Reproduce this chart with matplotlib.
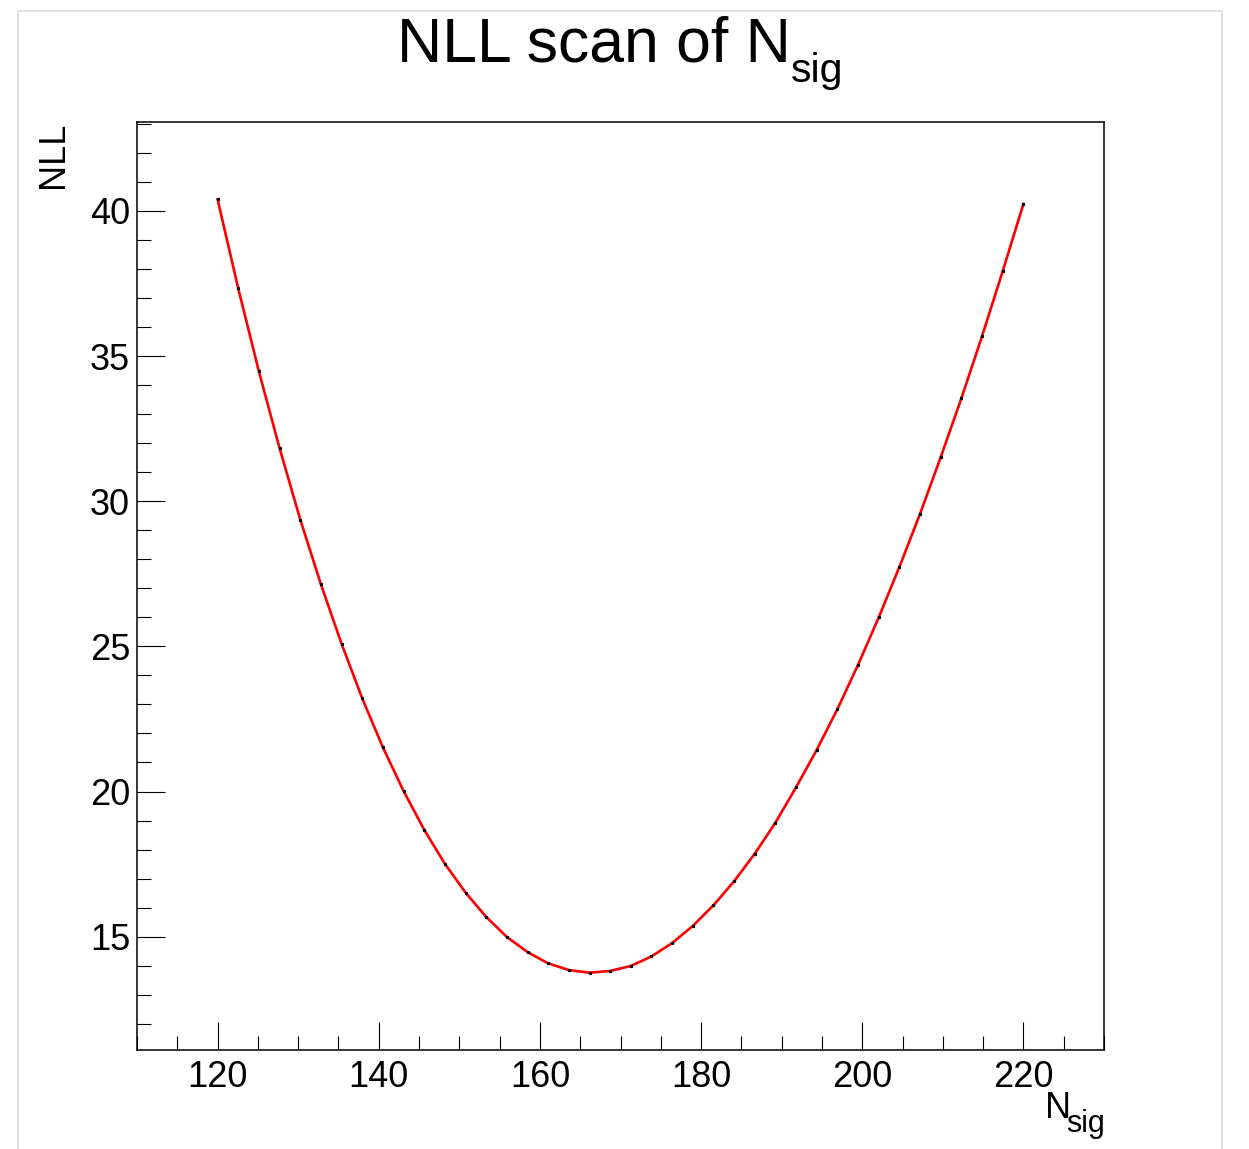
import numpy as np
import matplotlib
matplotlib.use("Agg")
import matplotlib.pyplot as plt
from matplotlib.patches import Rectangle
from matplotlib.ticker import MultipleLocator

plt.rcParams['font.family'] = ['Liberation Sans', 'DejaVu Sans']

# scan points: 40 values of N_sig between 120 and 220
n_sig = np.linspace(120, 220, 40)
nll = [40.40, 37.33, 34.47, 31.83, 29.37, 27.14, 25.09, 23.21, 21.52, 20.02,
       18.68, 17.51, 16.52, 15.68, 14.99, 14.47, 14.08, 13.85, 13.76, 13.82,
       13.99, 14.32, 14.78, 15.37, 16.08, 16.91, 17.86, 18.93, 20.15, 21.44,
       22.84, 24.37, 26.00, 27.74, 29.57, 31.52, 33.55, 35.69, 37.93, 40.24]

W, H = 1249, 1149
fig = plt.figure(figsize=(W / 100, H / 100), dpi=100)


def px(x, y):
    # pixel position (from top-left) -> figure fraction
    return x / W, 1 - y / H


# light canvas frame
fig.patches.append(Rectangle((18 / W, -0.01), (1222 - 18) / W, 1 - 11 / H + 0.01,
                             transform=fig.transFigure, fill=False,
                             edgecolor='#dcdcdc', linewidth=1.2))

ax = fig.add_axes([137 / W, 1 - 1050 / H, (1104 - 137) / W, (1050 - 122) / H])

ax.plot(n_sig, nll, color='red', linewidth=1.9, zorder=2)
ax.plot(n_sig, nll, linestyle='none', marker='s', markersize=1.3,
        color='black', zorder=3)

# 10% margins like a TGraph frame
xr = n_sig[-1] - n_sig[0]
yr = max(nll) - min(nll)
ax.set_xlim(n_sig[0] - 0.1 * xr, n_sig[-1] + 0.1 * xr)
ax.set_ylim(min(nll) - 0.1 * yr, max(nll) + 0.1 * yr)

ax.xaxis.set_major_locator(MultipleLocator(20))
ax.xaxis.set_minor_locator(MultipleLocator(5))
ax.yaxis.set_major_locator(MultipleLocator(5))
ax.yaxis.set_minor_locator(MultipleLocator(1))

ax.tick_params(which='both', direction='in', top=False, right=False,
               width=0.8, labelsize=26)
ax.tick_params(which='major', length=20)
ax.tick_params(which='minor', length=10)
ax.tick_params(axis='x', pad=7.5)
ax.tick_params(axis='y', pad=5)
for s in ax.spines.values():
    s.set_linewidth(1.1)

# title with a ROOT-like subscript
fig.text(*px(397, 61), "NLL scan of N", ha='left', va='baseline', fontsize=45)
fig.text(*px(791, 82), "sig", ha='left', va='baseline', fontsize=29.5)

# axis titles
fig.text(*px(1045, 1118), "N", ha='left', va='baseline', fontsize=26)
fig.text(*px(1105, 1132), "sig", ha='right', va='baseline', fontsize=22)
fig.text(*px(53, 122), "NLL", rotation=90, ha='center', va='top', fontsize=26)

fig.savefig("out.png", dpi=100, facecolor='white')
